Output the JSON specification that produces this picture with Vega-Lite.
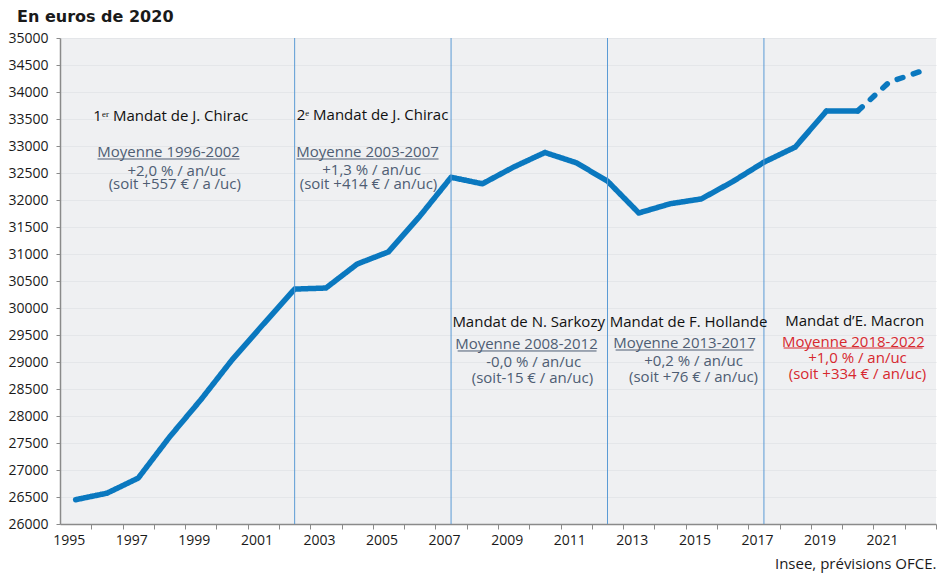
{
  "$schema": "https://vega.github.io/schema/vega-lite/v6.json",
  "width": 876,
  "height": 486,
  "autosize": {"type": "none"},
  "padding": {"left": 60, "top": 38, "right": 2, "bottom": 49},
  "background": "white",
  "config": {
    "view": {"fill": "#eff0f2", "stroke": null},
    "font": "Open Sans",
    "text": {"font": "Open Sans"},
    "axisY": {
      "labelOverlap": false,
      "labelFontSize": 14,
      "labelColor": "#1a1a1a",
      "labelFont": "Open Sans",
      "labelPadding": 8,
      "tickSize": 4,
      "tickColor": "#8a8a8a",
      "domainColor": "#8a8a8a",
      "domainWidth": 1.5,
      "grid": true,
      "gridColor": "#e4e6e9",
      "gridWidth": 1
    }
  },
  "title": {
    "text": "En euros de 2020",
    "anchor": "start",
    "frame": "group",
    "dx": -43,
    "offset": 6,
    "fontSize": 16,
    "fontWeight": "bold",
    "color": "#1a1a1a",
    "font": "DejaVu Sans"
  },
  "datasets": {
    "revenu": [
      {"annee": 1995, "valeur": 26450, "statut": "Observé"},
      {"annee": 1996, "valeur": 26570, "statut": "Observé"},
      {"annee": 1997, "valeur": 26850, "statut": "Observé"},
      {"annee": 1998, "valeur": 27610, "statut": "Observé"},
      {"annee": 1999, "valeur": 28300, "statut": "Observé"},
      {"annee": 2000, "valeur": 29040, "statut": "Observé"},
      {"annee": 2001, "valeur": 29700, "statut": "Observé"},
      {"annee": 2002, "valeur": 30350, "statut": "Observé"},
      {"annee": 2003, "valeur": 30370, "statut": "Observé"},
      {"annee": 2004, "valeur": 30815, "statut": "Observé"},
      {"annee": 2005, "valeur": 31040, "statut": "Observé"},
      {"annee": 2006, "valeur": 31700, "statut": "Observé"},
      {"annee": 2007, "valeur": 32420, "statut": "Observé"},
      {"annee": 2008, "valeur": 32300, "statut": "Observé"},
      {"annee": 2009, "valeur": 32610, "statut": "Observé"},
      {"annee": 2010, "valeur": 32880, "statut": "Observé"},
      {"annee": 2011, "valeur": 32690, "statut": "Observé"},
      {"annee": 2012, "valeur": 32350, "statut": "Observé"},
      {"annee": 2013, "valeur": 31760, "statut": "Observé"},
      {"annee": 2014, "valeur": 31930, "statut": "Observé"},
      {"annee": 2015, "valeur": 32020, "statut": "Observé"},
      {"annee": 2016, "valeur": 32340, "statut": "Observé"},
      {"annee": 2017, "valeur": 32700, "statut": "Observé"},
      {"annee": 2018, "valeur": 32980, "statut": "Observé"},
      {"annee": 2019, "valeur": 33650, "statut": "Observé"},
      {"annee": 2020, "valeur": 33650, "statut": "Observé"},
      {"annee": 2020, "valeur": 33650, "statut": "Prévision"},
      {"annee": 2021, "valeur": 34180, "statut": "Prévision"},
      {"annee": 2022, "valeur": 34380, "statut": "Prévision"}
    ],
    "mandats": [
      {"annee": 2002},
      {"annee": 2007},
      {"annee": 2012},
      {"annee": 2017}
    ],
    "titres": [
      {"annee": 1998.04, "valeur": 33556, "texte": "1ᵉʳ Mandat de J. Chirac"},
      {"annee": 2004.49, "valeur": 33574, "texte": "2ᵉ Mandat de J. Chirac"},
      {"annee": 2009.48, "valeur": 29741, "texte": "Mandat de N. Sarkozy"},
      {"annee": 2014.59, "valeur": 29741, "texte": "Mandat de F. Hollande"},
      {"annee": 2019.9, "valeur": 29759, "texte": "Mandat d’E. Macron"}
    ],
    "moyennes": [
      {"mandat": "Chirac1", "annee": 1997.97, "valeur": 32889, "texte": "Moyenne 1996-2002"},
      {"mandat": "Chirac1", "annee": 1998.23, "valeur": 32537, "texte": "+2,0 % / an/uc"},
      {"mandat": "Chirac1", "annee": 1998.17, "valeur": 32300, "texte": "(soit +557 € / a /uc)"},
      {"mandat": "Chirac2", "annee": 2004.33, "valeur": 32889, "texte": "Moyenne 2003-2007"},
      {"mandat": "Chirac2", "annee": 2004.46, "valeur": 32560, "texte": "+1,3 % / an/uc"},
      {"mandat": "Chirac2", "annee": 2004.36, "valeur": 32290, "texte": "(soit +414 € / an/uc)"},
      {"mandat": "Sarkozy", "annee": 2009.41, "valeur": 29333, "texte": "Moyenne 2008-2012"},
      {"mandat": "Sarkozy", "annee": 2009.64, "valeur": 29000, "texte": "-0,0 % / an/uc"},
      {"mandat": "Sarkozy", "annee": 2009.6, "valeur": 28710, "texte": "(soit-15 € / an/uc)"},
      {"mandat": "Hollande", "annee": 2014.46, "valeur": 29352, "texte": "Moyenne 2013-2017"},
      {"mandat": "Hollande", "annee": 2014.75, "valeur": 29019, "texte": "+0,2 % / an/uc"},
      {"mandat": "Hollande", "annee": 2014.75, "valeur": 28722, "texte": "(soit +76 € / an/uc)"},
      {"mandat": "Macron", "annee": 2019.86, "valeur": 29370, "texte": "Moyenne 2018-2022"},
      {"mandat": "Macron", "annee": 2019.99, "valeur": 29074, "texte": "+1,0 % / an/uc"},
      {"mandat": "Macron", "annee": 2019.99, "valeur": 28770, "texte": "(soit +334 € / an/uc)"}
    ],
    "soulignes": [
      {"mandat": "Chirac1", "annee": 1995.7, "annee_fin": 2000.24, "valeur": 32759},
      {"mandat": "Chirac2", "annee": 2002.06, "annee_fin": 2006.6, "valeur": 32759},
      {"mandat": "Sarkozy", "annee": 2007.21, "annee_fin": 2011.65, "valeur": 29204},
      {"mandat": "Hollande", "annee": 2012.26, "annee_fin": 2016.67, "valeur": 29222},
      {"mandat": "Macron", "annee": 2017.63, "annee_fin": 2022.07, "valeur": 29259}
    ]
  },
  "encoding": {
    "x": {
      "field": "annee",
      "type": "quantitative",
      "scale": {"domain": [1994.5, 2022.5], "nice": false, "zero": false},
      "axis": {
        "title": "Insee, prévisions OFCE.",
        "titleAnchor": "end",
        "titleFontWeight": "normal",
        "titleFontSize": 15,
        "titleColor": "#1a1a1a",
        "titlePadding": 9,
        "titleFont": "Open Sans",
        "values": [1995,1996,1997,1998,1999,2000,2001,2002,2003,2004,2005,2006,2007,2008,2009,2010,2011,2012,2013,2014,2015,2016,2017,2018,2019,2020,2021,2022],
        "labelExpr": "datum.value % 2 === 1 ? '' + datum.value : ''",
        "labelOverlap": false,
        "labelFlush": false,
        "labelBound": false,
        "tickOffset": 15.64,
        "labelOffset": -22.6,
        "tickSize": 5,
        "tickColor": "#8a8a8a",
        "domainColor": "#8a8a8a",
        "domainWidth": 1.5,
        "grid": false,
        "labelFontSize": 14,
        "labelColor": "#1a1a1a",
        "labelFont": "Open Sans",
        "labelPadding": 4
      }
    }
  },
  "layer": [
    {
      "data": {"name": "revenu"},
      "mark": {"type": "line", "color": "#0a78bf", "strokeWidth": 5.5, "strokeCap": "round", "strokeJoin": "round"},
      "encoding": {
        "y": {
          "field": "valeur",
          "type": "quantitative",
          "scale": {"domain": [26000, 35000], "nice": false, "zero": false},
          "axis": {"title": null, "format": "d", "values": [26000,26500,27000,27500,28000,28500,29000,29500,30000,30500,31000,31500,32000,32500,33000,33500,34000,34500,35000]}
        },
        "strokeDash": {
          "field": "statut",
          "type": "nominal",
          "scale": {"domain": ["Observé", "Prévision"], "range": [[1, 0], [6, 11]]},
          "legend": null
        }
      }
    },
    {
      "data": {"name": "mandats"},
      "mark": {"type": "rule", "color": "#5b9bd5", "strokeWidth": 1}
    },
    {
      "data": {"name": "titres"},
      "mark": {"type": "text", "fontSize": 15, "color": "#111111", "align": "center", "baseline": "middle", "font": "Open Sans"},
      "encoding": {
        "y": {
          "field": "valeur",
          "type": "quantitative",
          "scale": {"domain": [26000, 35000], "nice": false, "zero": false},
          "axis": {"title": null, "format": "d", "values": [26000,26500,27000,27500,28000,28500,29000,29500,30000,30500,31000,31500,32000,32500,33000,33500,34000,34500,35000]}
        },
        "text": {"field": "texte"}
      }
    },
    {
      "data": {"name": "moyennes"},
      "mark": {"type": "text", "fontSize": 15, "align": "center", "baseline": "middle", "font": "Open Sans"},
      "encoding": {
        "y": {
          "field": "valeur",
          "type": "quantitative",
          "scale": {"domain": [26000, 35000], "nice": false, "zero": false},
          "axis": {"title": null, "format": "d", "values": [26000,26500,27000,27500,28000,28500,29000,29500,30000,30500,31000,31500,32000,32500,33000,33500,34000,34500,35000]}
        },
        "text": {"field": "texte"},
        "color": {"condition": {"test": "datum.mandat === 'Macron'", "value": "#d7282f"}, "value": "#4e5d73"}
      }
    },
    {
      "data": {"name": "soulignes"},
      "mark": {"type": "rule", "strokeWidth": 1},
      "encoding": {
        "x2": {"field": "annee_fin"},
        "y": {
          "field": "valeur",
          "type": "quantitative",
          "scale": {"domain": [26000, 35000], "nice": false, "zero": false},
          "axis": {"title": null, "format": "d", "values": [26000,26500,27000,27500,28000,28500,29000,29500,30000,30500,31000,31500,32000,32500,33000,33500,34000,34500,35000]}
        },
        "color": {"condition": {"test": "datum.mandat === 'Macron'", "value": "#d7282f"}, "value": "#4e5d73"}
      }
    }
  ]
}
